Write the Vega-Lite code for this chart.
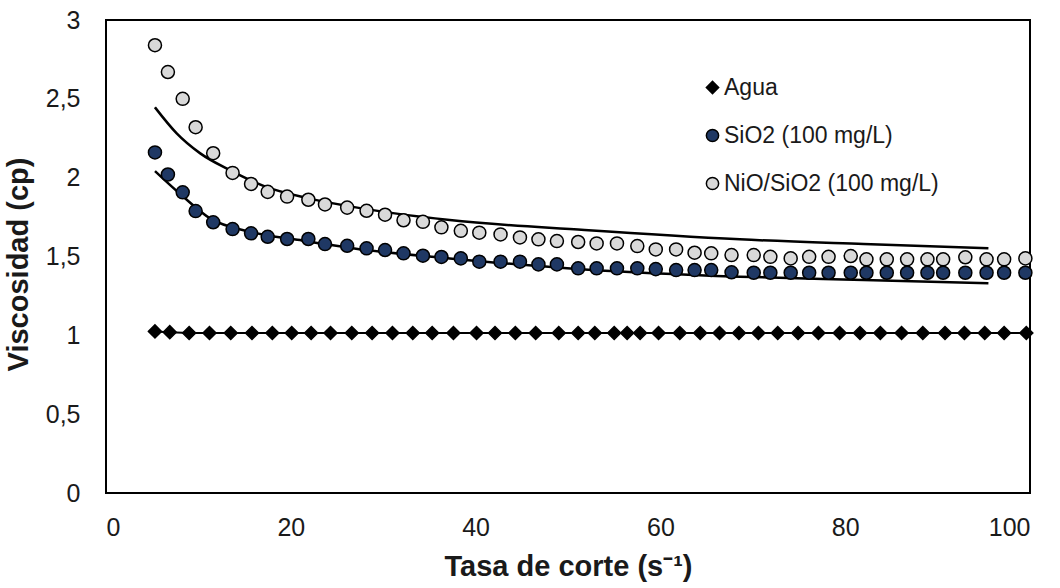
{
  "$schema": "https://vega.github.io/schema/vega-lite/v6.json",
  "width": 924,
  "height": 473,
  "autosize": {"type": "none"},
  "padding": {"left": 106, "top": 20, "right": 30, "bottom": 95},
  "background": "white",
  "config": {
    "view": {"stroke": "black", "strokeWidth": 2},
    "font": "Liberation Sans",
    "axis": {
      "grid": false,
      "ticks": false,
      "domain": false,
      "labelFont": "Liberation Sans",
      "labelFontSize": 25,
      "labelColor": "#1a1a1a",
      "titleFont": "Liberation Sans",
      "titleFontSize": 29,
      "titleFontWeight": "bold",
      "titleColor": "#1a1a1a"
    }
  },
  "datasets": {
    "medidas": [
      {"serie": "Agua", "x": 5.3, "v": 1.025},
      {"serie": "Agua", "x": 6.9, "v": 1.02},
      {"serie": "Agua", "x": 9.0, "v": 1.015},
      {"serie": "Agua", "x": 11.2, "v": 1.015},
      {"serie": "Agua", "x": 13.5, "v": 1.015},
      {"serie": "Agua", "x": 15.8, "v": 1.015},
      {"serie": "Agua", "x": 18.0, "v": 1.015},
      {"serie": "Agua", "x": 20.1, "v": 1.015},
      {"serie": "Agua", "x": 22.2, "v": 1.015},
      {"serie": "Agua", "x": 24.3, "v": 1.015},
      {"serie": "Agua", "x": 26.6, "v": 1.015},
      {"serie": "Agua", "x": 28.8, "v": 1.015},
      {"serie": "Agua", "x": 31.0, "v": 1.015},
      {"serie": "Agua", "x": 33.2, "v": 1.015},
      {"serie": "Agua", "x": 35.3, "v": 1.015},
      {"serie": "Agua", "x": 37.6, "v": 1.015},
      {"serie": "Agua", "x": 40.1, "v": 1.015},
      {"serie": "Agua", "x": 42.1, "v": 1.015},
      {"serie": "Agua", "x": 44.3, "v": 1.015},
      {"serie": "Agua", "x": 46.5, "v": 1.015},
      {"serie": "Agua", "x": 49.0, "v": 1.015},
      {"serie": "Agua", "x": 51.1, "v": 1.015},
      {"serie": "Agua", "x": 52.9, "v": 1.015},
      {"serie": "Agua", "x": 55.0, "v": 1.015},
      {"serie": "Agua", "x": 56.4, "v": 1.015},
      {"serie": "Agua", "x": 57.8, "v": 1.015},
      {"serie": "Agua", "x": 59.8, "v": 1.015},
      {"serie": "Agua", "x": 62.1, "v": 1.015},
      {"serie": "Agua", "x": 64.3, "v": 1.015},
      {"serie": "Agua", "x": 66.4, "v": 1.015},
      {"serie": "Agua", "x": 68.5, "v": 1.015},
      {"serie": "Agua", "x": 70.6, "v": 1.015},
      {"serie": "Agua", "x": 72.7, "v": 1.015},
      {"serie": "Agua", "x": 74.9, "v": 1.015},
      {"serie": "Agua", "x": 77.1, "v": 1.015},
      {"serie": "Agua", "x": 79.4, "v": 1.015},
      {"serie": "Agua", "x": 81.6, "v": 1.015},
      {"serie": "Agua", "x": 83.8, "v": 1.015},
      {"serie": "Agua", "x": 86.1, "v": 1.015},
      {"serie": "Agua", "x": 88.4, "v": 1.015},
      {"serie": "Agua", "x": 90.8, "v": 1.015},
      {"serie": "Agua", "x": 92.9, "v": 1.015},
      {"serie": "Agua", "x": 95.1, "v": 1.015},
      {"serie": "Agua", "x": 97.2, "v": 1.015},
      {"serie": "Agua", "x": 99.6, "v": 1.015},

      {"serie": "NiO/SiO2 (100 mg/L)", "x": 5.3, "v": 2.84},
      {"serie": "NiO/SiO2 (100 mg/L)", "x": 6.7, "v": 2.67},
      {"serie": "NiO/SiO2 (100 mg/L)", "x": 8.3, "v": 2.5},
      {"serie": "NiO/SiO2 (100 mg/L)", "x": 9.7, "v": 2.32},
      {"serie": "NiO/SiO2 (100 mg/L)", "x": 11.6, "v": 2.155},
      {"serie": "NiO/SiO2 (100 mg/L)", "x": 13.7, "v": 2.03},
      {"serie": "NiO/SiO2 (100 mg/L)", "x": 15.7, "v": 1.96},
      {"serie": "NiO/SiO2 (100 mg/L)", "x": 17.5, "v": 1.91},
      {"serie": "NiO/SiO2 (100 mg/L)", "x": 19.6, "v": 1.88},
      {"serie": "NiO/SiO2 (100 mg/L)", "x": 21.9, "v": 1.86},
      {"serie": "NiO/SiO2 (100 mg/L)", "x": 23.7, "v": 1.83},
      {"serie": "NiO/SiO2 (100 mg/L)", "x": 26.1, "v": 1.81},
      {"serie": "NiO/SiO2 (100 mg/L)", "x": 28.2, "v": 1.79},
      {"serie": "NiO/SiO2 (100 mg/L)", "x": 30.2, "v": 1.765},
      {"serie": "NiO/SiO2 (100 mg/L)", "x": 32.2, "v": 1.73},
      {"serie": "NiO/SiO2 (100 mg/L)", "x": 34.3, "v": 1.72},
      {"serie": "NiO/SiO2 (100 mg/L)", "x": 36.3, "v": 1.685},
      {"serie": "NiO/SiO2 (100 mg/L)", "x": 38.4, "v": 1.663},
      {"serie": "NiO/SiO2 (100 mg/L)", "x": 40.4, "v": 1.651},
      {"serie": "NiO/SiO2 (100 mg/L)", "x": 42.7, "v": 1.64},
      {"serie": "NiO/SiO2 (100 mg/L)", "x": 44.8, "v": 1.621},
      {"serie": "NiO/SiO2 (100 mg/L)", "x": 46.8, "v": 1.609},
      {"serie": "NiO/SiO2 (100 mg/L)", "x": 48.8, "v": 1.598},
      {"serie": "NiO/SiO2 (100 mg/L)", "x": 51.1, "v": 1.592},
      {"serie": "NiO/SiO2 (100 mg/L)", "x": 53.1, "v": 1.583},
      {"serie": "NiO/SiO2 (100 mg/L)", "x": 55.3, "v": 1.583},
      {"serie": "NiO/SiO2 (100 mg/L)", "x": 57.5, "v": 1.566},
      {"serie": "NiO/SiO2 (100 mg/L)", "x": 59.5, "v": 1.545},
      {"serie": "NiO/SiO2 (100 mg/L)", "x": 61.7, "v": 1.545},
      {"serie": "NiO/SiO2 (100 mg/L)", "x": 63.7, "v": 1.524},
      {"serie": "NiO/SiO2 (100 mg/L)", "x": 65.5, "v": 1.52},
      {"serie": "NiO/SiO2 (100 mg/L)", "x": 67.7, "v": 1.509},
      {"serie": "NiO/SiO2 (100 mg/L)", "x": 70.1, "v": 1.509},
      {"serie": "NiO/SiO2 (100 mg/L)", "x": 71.9, "v": 1.498},
      {"serie": "NiO/SiO2 (100 mg/L)", "x": 74.1, "v": 1.488},
      {"serie": "NiO/SiO2 (100 mg/L)", "x": 76.1, "v": 1.498},
      {"serie": "NiO/SiO2 (100 mg/L)", "x": 78.2, "v": 1.498},
      {"serie": "NiO/SiO2 (100 mg/L)", "x": 80.6, "v": 1.503},
      {"serie": "NiO/SiO2 (100 mg/L)", "x": 82.3, "v": 1.482},
      {"serie": "NiO/SiO2 (100 mg/L)", "x": 84.5, "v": 1.482},
      {"serie": "NiO/SiO2 (100 mg/L)", "x": 86.7, "v": 1.482},
      {"serie": "NiO/SiO2 (100 mg/L)", "x": 88.9, "v": 1.482},
      {"serie": "NiO/SiO2 (100 mg/L)", "x": 90.6, "v": 1.482},
      {"serie": "NiO/SiO2 (100 mg/L)", "x": 93.0, "v": 1.495},
      {"serie": "NiO/SiO2 (100 mg/L)", "x": 95.3, "v": 1.482},
      {"serie": "NiO/SiO2 (100 mg/L)", "x": 97.2, "v": 1.482},
      {"serie": "NiO/SiO2 (100 mg/L)", "x": 99.5, "v": 1.488},

      {"serie": "SiO2 (100 mg/L)", "x": 5.3, "v": 2.16},
      {"serie": "SiO2 (100 mg/L)", "x": 6.7, "v": 2.02},
      {"serie": "SiO2 (100 mg/L)", "x": 8.3, "v": 1.907},
      {"serie": "SiO2 (100 mg/L)", "x": 9.7, "v": 1.788},
      {"serie": "SiO2 (100 mg/L)", "x": 11.6, "v": 1.717},
      {"serie": "SiO2 (100 mg/L)", "x": 13.7, "v": 1.674},
      {"serie": "SiO2 (100 mg/L)", "x": 15.7, "v": 1.647},
      {"serie": "SiO2 (100 mg/L)", "x": 17.5, "v": 1.625},
      {"serie": "SiO2 (100 mg/L)", "x": 19.6, "v": 1.611},
      {"serie": "SiO2 (100 mg/L)", "x": 21.9, "v": 1.611},
      {"serie": "SiO2 (100 mg/L)", "x": 23.7, "v": 1.579},
      {"serie": "SiO2 (100 mg/L)", "x": 26.1, "v": 1.568},
      {"serie": "SiO2 (100 mg/L)", "x": 28.2, "v": 1.552},
      {"serie": "SiO2 (100 mg/L)", "x": 30.2, "v": 1.541},
      {"serie": "SiO2 (100 mg/L)", "x": 32.2, "v": 1.52},
      {"serie": "SiO2 (100 mg/L)", "x": 34.3, "v": 1.505},
      {"serie": "SiO2 (100 mg/L)", "x": 36.3, "v": 1.497},
      {"serie": "SiO2 (100 mg/L)", "x": 38.4, "v": 1.488},
      {"serie": "SiO2 (100 mg/L)", "x": 40.4, "v": 1.467},
      {"serie": "SiO2 (100 mg/L)", "x": 42.7, "v": 1.467},
      {"serie": "SiO2 (100 mg/L)", "x": 44.8, "v": 1.467},
      {"serie": "SiO2 (100 mg/L)", "x": 46.8, "v": 1.45},
      {"serie": "SiO2 (100 mg/L)", "x": 48.8, "v": 1.45},
      {"serie": "SiO2 (100 mg/L)", "x": 51.1, "v": 1.425},
      {"serie": "SiO2 (100 mg/L)", "x": 53.1, "v": 1.425},
      {"serie": "SiO2 (100 mg/L)", "x": 55.3, "v": 1.425},
      {"serie": "SiO2 (100 mg/L)", "x": 57.5, "v": 1.425},
      {"serie": "SiO2 (100 mg/L)", "x": 59.5, "v": 1.42},
      {"serie": "SiO2 (100 mg/L)", "x": 61.7, "v": 1.414},
      {"serie": "SiO2 (100 mg/L)", "x": 63.7, "v": 1.414},
      {"serie": "SiO2 (100 mg/L)", "x": 65.5, "v": 1.414},
      {"serie": "SiO2 (100 mg/L)", "x": 67.7, "v": 1.4},
      {"serie": "SiO2 (100 mg/L)", "x": 70.1, "v": 1.397},
      {"serie": "SiO2 (100 mg/L)", "x": 71.9, "v": 1.397},
      {"serie": "SiO2 (100 mg/L)", "x": 74.1, "v": 1.397},
      {"serie": "SiO2 (100 mg/L)", "x": 76.1, "v": 1.397},
      {"serie": "SiO2 (100 mg/L)", "x": 78.2, "v": 1.397},
      {"serie": "SiO2 (100 mg/L)", "x": 80.6, "v": 1.397},
      {"serie": "SiO2 (100 mg/L)", "x": 82.3, "v": 1.397},
      {"serie": "SiO2 (100 mg/L)", "x": 84.5, "v": 1.397},
      {"serie": "SiO2 (100 mg/L)", "x": 86.7, "v": 1.397},
      {"serie": "SiO2 (100 mg/L)", "x": 88.9, "v": 1.397},
      {"serie": "SiO2 (100 mg/L)", "x": 90.6, "v": 1.397},
      {"serie": "SiO2 (100 mg/L)", "x": 93.0, "v": 1.397},
      {"serie": "SiO2 (100 mg/L)", "x": 95.3, "v": 1.397},
      {"serie": "SiO2 (100 mg/L)", "x": 97.2, "v": 1.397},
      {"serie": "SiO2 (100 mg/L)", "x": 99.5, "v": 1.397}
    ],
    "ajustes": [
      {"curva": "NiO/SiO2", "x": 5.3, "v": 2.446},
      {"curva": "NiO/SiO2", "x": 7.65, "v": 2.281},
      {"curva": "NiO/SiO2", "x": 10.2, "v": 2.154},
      {"curva": "NiO/SiO2", "x": 13.4, "v": 2.048},
      {"curva": "NiO/SiO2", "x": 17.4, "v": 1.94},
      {"curva": "NiO/SiO2", "x": 21.7, "v": 1.872},
      {"curva": "NiO/SiO2", "x": 26.4, "v": 1.818},
      {"curva": "NiO/SiO2", "x": 37.2, "v": 1.731},
      {"curva": "NiO/SiO2", "x": 51.8, "v": 1.668},
      {"curva": "NiO/SiO2", "x": 68.6, "v": 1.609},
      {"curva": "NiO/SiO2", "x": 82.0, "v": 1.579},
      {"curva": "NiO/SiO2", "x": 95.5, "v": 1.552},
      {"curva": "SiO2", "x": 5.3, "v": 2.042},
      {"curva": "SiO2", "x": 8.37, "v": 1.879},
      {"curva": "SiO2", "x": 11.26, "v": 1.742},
      {"curva": "SiO2", "x": 15.6, "v": 1.657},
      {"curva": "SiO2", "x": 21.0, "v": 1.604},
      {"curva": "SiO2", "x": 28.2, "v": 1.541},
      {"curva": "SiO2", "x": 37.2, "v": 1.488},
      {"curva": "SiO2", "x": 51.8, "v": 1.418},
      {"curva": "SiO2", "x": 68.6, "v": 1.372},
      {"curva": "SiO2", "x": 82.0, "v": 1.351},
      {"curva": "SiO2", "x": 95.5, "v": 1.33}
    ]
  },
  "layer": [
    {
      "data": {"name": "ajustes"},
      "mark": {"type": "line", "color": "black", "strokeWidth": 2.5, "interpolate": "monotone"},
      "encoding": {
        "x": {
          "field": "x",
          "type": "quantitative",
          "scale": {"domain": [0, 100], "nice": false},
          "axis": {
            "values": [0, 20, 40, 60, 80, 100],
            "labelPadding": 22,
            "title": "Tasa de corte (s⁻¹)",
            "titlePadding": 12
          }
        },
        "y": {
          "field": "v",
          "type": "quantitative",
          "scale": {"domain": [0, 3], "nice": false},
          "axis": {
            "values": [0, 0.5, 1, 1.5, 2, 2.5, 3],
            "format": ".1~f",
            "labelExpr": "replace(datum.label, '.', ',')",
            "labelPadding": 26,
            "title": "Viscosidad (cp)",
            "titlePadding": 12,
            "titleY": 244
          }
        },
        "detail": {"field": "curva"}
      }
    },
    {
      "data": {"name": "medidas"},
      "transform": [{"filter": "datum.serie === 'Agua'"}],
      "mark": {"type": "line", "color": "black", "strokeWidth": 2},
      "encoding": {
        "x": {"field": "x", "type": "quantitative"},
        "y": {"field": "v", "type": "quantitative"}
      }
    },
    {
      "data": {"name": "medidas"},
      "mark": {"type": "point", "filled": true, "stroke": "black", "strokeWidth": 1.5, "opacity": 1, "size": 170},
      "encoding": {
        "x": {"field": "x", "type": "quantitative"},
        "y": {"field": "v", "type": "quantitative"},
        "shape": {
          "field": "serie",
          "type": "nominal",
          "scale": {
            "domain": ["Agua", "SiO2 (100 mg/L)", "NiO/SiO2 (100 mg/L)"],
            "range": ["diamond", "circle", "circle"]
          },
          "legend": {
            "orient": "none", "legendX": 595, "legendY": 56, "title": null, "padding": 0,
            "labelFont": "Liberation Sans", "labelFontSize": 23, "labelColor": "#1a1a1a", "labelLimit": 0,
            "symbolSize": 150, "rowPadding": 24, "labelOffset": 0,
            "encode": {"symbols": {"update": {"stroke": {"value": "black"}, "strokeWidth": {"value": 1.5}, "opacity": {"value": 1}}}}
          }
        },
        "fill": {
          "field": "serie",
          "type": "nominal",
          "scale": {
            "domain": ["Agua", "SiO2 (100 mg/L)", "NiO/SiO2 (100 mg/L)"],
            "range": ["#000000", "#1F3864", "#D9D9D9"]
          },
          "legend": {
            "orient": "none", "legendX": 595, "legendY": 56, "title": null, "padding": 0,
            "labelFont": "Liberation Sans", "labelFontSize": 23, "labelColor": "#1a1a1a", "labelLimit": 0,
            "symbolSize": 150, "rowPadding": 24, "labelOffset": 0,
            "encode": {"symbols": {"update": {"stroke": {"value": "black"}, "strokeWidth": {"value": 1.5}, "opacity": {"value": 1}}}}
          }
        }
      }
    }
  ]
}
